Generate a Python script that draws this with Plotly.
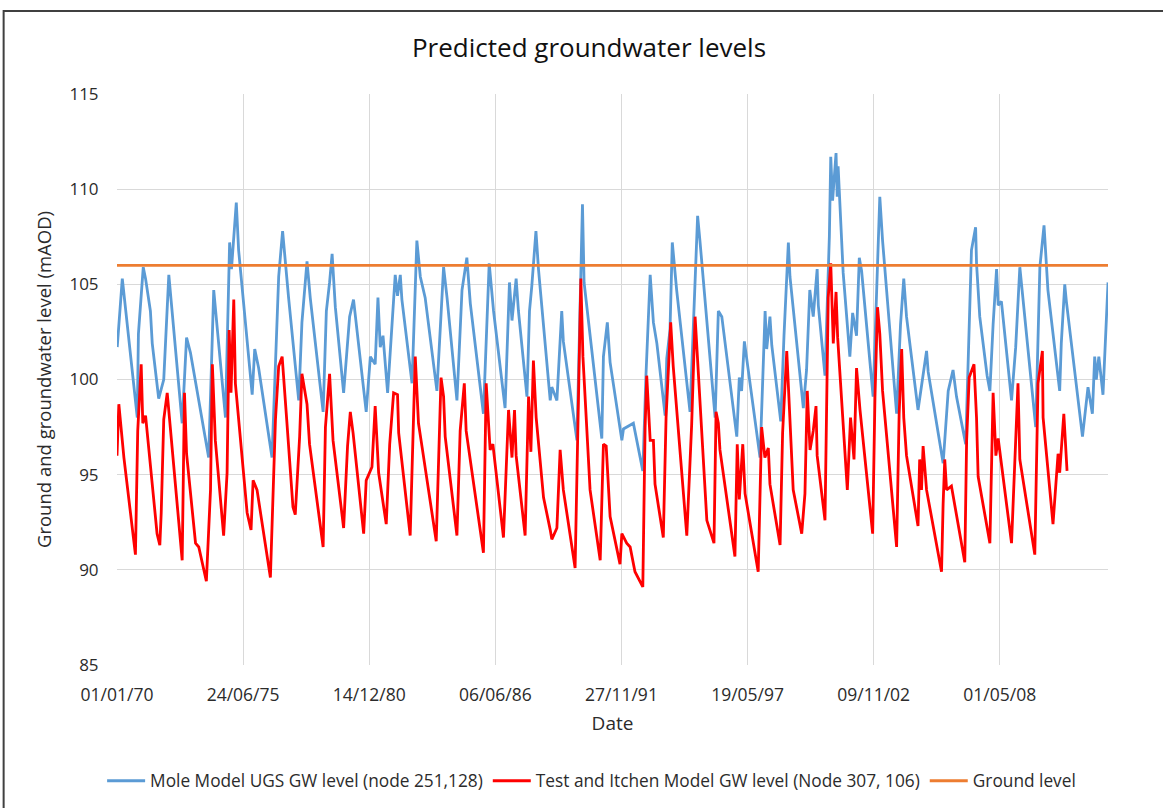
import numpy as np
import pandas as pd
import plotly.graph_objects as go

# ---- data (decimal years since 1970-01-01, level in mAOD) ----
mole_t = [0.01, 0.23, 0.88, 0.93, 1.14, 1.24, 1.45, 1.53, 1.81, 2.03, 2.25, 2.83, 3.02, 3.19, 3.98,
          4.20, 4.71, 4.89, 4.97, 5.18, 5.28, 5.87, 5.98, 6.15, 6.73, 7.02, 7.19, 7.45, 7.89, 8.03,
          8.25, 8.39, 8.95, 9.09, 9.23, 9.34, 9.48, 9.84, 10.10, 10.27, 10.82, 11.00, 11.21, 11.33,
          11.43, 11.55, 11.75, 11.94, 12.08, 12.18, 12.30, 12.37, 12.81, 13.02, 13.17, 13.38, 13.89,
          14.18, 14.33, 14.76, 14.98, 15.19, 15.34, 15.91, 16.16, 16.35, 16.85, 17.04, 17.15, 17.33,
          17.43, 17.80, 17.91, 18.01, 18.19, 18.30, 18.81, 18.88, 19.10, 19.31, 19.38, 19.97, 20.21,
          20.28, 21.05, 21.12, 21.29, 21.41, 21.92, 21.99, 22.42, 22.83, 22.97, 23.15, 23.29, 23.44,
          23.80, 23.87, 24.01, 24.11, 24.30, 24.88, 25.21, 25.31, 25.97, 26.11, 26.26, 26.91, 27.02,
          27.12, 27.24, 27.92, 28.14, 28.21, 28.35, 28.43, 28.82, 28.96, 29.15, 29.22, 29.80, 29.94,
          30.08, 30.23, 30.40, 30.45, 30.74, 30.93, 30.99, 31.07, 31.22, 31.27, 31.31, 31.53, 31.82,
          31.94, 32.11, 32.23, 32.33, 32.83, 33.12, 33.24, 33.85, 34.02, 34.16, 34.28, 34.78, 35.15,
          35.22, 35.87, 36.09, 36.30, 36.45, 36.85, 37.03, 37.10, 37.28, 37.32, 37.46, 37.64, 37.78,
          37.90, 38.04, 38.19, 38.26, 38.40, 38.84, 39.02, 39.20, 39.89, 40.07, 40.25, 40.36, 40.42,
          40.93, 41.00, 41.15, 41.22, 41.92, 42.16, 42.35, 42.45, 42.52, 42.63, 42.81, 43.03]
mole_level = [101.7, 105.3, 98.0, 102.4, 105.9, 105.3, 103.6, 101.9, 99.0, 100.0, 105.5, 97.7, 102.2,
              101.4, 95.9, 104.7, 98.0, 107.2, 105.8, 109.3, 106.8, 99.2, 101.6, 100.6, 95.9, 105.4,
              107.8, 104.3, 98.9, 103.0, 106.2, 104.3, 98.3, 103.6, 105.1, 106.6, 103.8, 99.3, 103.3,
              104.2, 98.3, 101.2, 100.8, 104.3, 101.7, 102.3, 99.3, 103.0, 105.5, 104.4, 105.5, 104.2,
              99.8, 107.3, 105.4, 104.3, 99.4, 105.9, 104.3, 98.9, 104.7, 106.4, 104.0, 98.2, 106.1,
              103.6, 98.5, 105.1, 103.1, 105.3, 103.6, 99.1, 103.6, 104.9, 107.8, 105.8, 98.9, 99.6,
              98.9, 103.6, 102.0, 96.8, 109.2, 105.1, 96.9, 101.2, 103.0, 100.9, 96.8, 97.4, 97.7, 95.2,
              100.3, 105.5, 103.0, 101.9, 98.1, 101.1, 102.6, 107.2, 104.7, 98.3, 108.6, 107.3, 98.0,
              103.6, 103.3, 97.0, 100.1, 99.4, 102.0, 95.9, 103.6, 101.6, 103.3, 101.8, 97.8, 102.3,
              107.2, 105.4, 98.5, 100.5, 104.7, 103.3, 105.8, 103.9, 100.2, 107.5, 111.7, 109.4, 111.9,
              109.6, 111.2, 105.6, 101.2, 103.5, 102.3, 106.4, 105.7, 99.1, 109.6, 107.3, 98.2, 102.9,
              105.3, 103.3, 98.4, 101.5, 100.4, 95.6, 99.4, 100.5, 99.1, 96.6, 104.0, 106.8, 108.0,
              106.1, 103.3, 101.4, 100.2, 99.4, 102.9, 105.8, 103.9, 104.1, 98.9, 101.7, 105.9, 97.5,
              105.9, 108.1, 106.1, 104.7, 99.4, 101.9, 105.0, 104.1, 97.0, 99.6, 98.2, 101.2, 100.0,
              101.2, 99.2, 105.1]

itchen_t = [0.00, 0.08, 0.30, 0.80, 0.90, 1.05, 1.12, 1.24, 1.74, 1.86, 1.92, 2.03, 2.18, 2.83, 2.93,
            3.02, 3.41, 3.55, 3.88, 4.06, 4.14, 4.27, 4.63, 4.78, 4.87, 4.95, 5.07, 5.14, 5.65, 5.82,
            5.91, 6.08, 6.66, 6.88, 7.02, 7.17, 7.38, 7.64, 7.74, 7.93, 8.03, 8.25, 8.36, 8.95, 9.05,
            9.23, 9.38, 9.84, 10.01, 10.13, 10.25, 10.71, 10.82, 11.07, 11.21, 11.36, 11.69, 11.84,
            12.01, 12.18, 12.23, 12.73, 12.95, 13.09, 13.24, 13.86, 14.07, 14.18, 14.25, 14.76, 14.90,
            15.08, 15.16, 15.91, 16.03, 16.20, 16.32, 16.78, 17.00, 17.15, 17.26, 17.33, 17.72, 17.87,
            17.97, 18.08, 18.20, 18.52, 18.81, 18.88, 19.10, 19.24, 19.38, 19.89, 20.14, 20.23, 20.54,
            20.98, 21.12, 21.24, 21.41, 21.84, 21.92, 22.13, 22.28, 22.49, 22.83, 22.93, 23.00, 23.15,
            23.29, 23.36, 23.72, 23.84, 24.04, 24.15, 24.74, 24.95, 25.10, 25.17, 25.61, 25.92, 26.01,
            26.11, 26.18, 26.83, 26.93, 27.02, 27.17, 27.27, 27.84, 27.99, 28.13, 28.28, 28.35, 28.79,
            28.90, 29.08, 29.19, 29.36, 29.73, 29.87, 29.97, 30.09, 30.23, 30.35, 30.40, 30.74, 30.88,
            30.99, 31.10, 31.22, 31.29, 31.39, 31.71, 31.85, 32.00, 32.11, 32.26, 32.81, 32.91, 33.02,
            33.12, 33.24, 33.85, 33.96, 34.07, 34.16, 34.28, 34.78, 34.85, 34.93, 35.00, 35.15, 35.80,
            35.87, 35.94, 36.02, 36.23, 36.81, 36.89, 37.00, 37.21, 37.32, 37.39, 37.90, 37.97, 38.04,
            38.16, 38.26, 38.84, 38.98, 39.12, 39.20, 39.85, 39.99, 40.18, 40.21, 40.64, 40.86, 40.93,
            41.11, 41.25]
itchen_level = [96.0, 98.7, 95.9, 90.8, 97.3, 100.8, 97.7, 98.1, 91.9, 91.3, 93.0, 97.9, 99.3, 90.5,
                99.3, 96.1, 91.4, 91.2, 89.4, 94.2, 100.8, 96.8, 91.8, 95.1, 102.6, 99.3, 104.2, 99.8,
                93.0, 92.1, 94.7, 94.2, 89.6, 97.9, 100.7, 101.2, 97.7, 93.3, 92.9, 97.0, 100.3, 98.7,
                96.6, 91.2, 97.5, 100.3, 96.8, 92.2, 96.5, 98.3, 97.2, 91.9, 94.7, 95.4, 98.6, 95.1,
                92.4, 96.6, 99.3, 99.2, 97.2, 91.8, 101.2, 97.7, 96.5, 91.5, 100.1, 99.1, 97.0, 91.8,
                97.3, 99.8, 97.3, 90.9, 99.8, 96.3, 96.6, 91.7, 98.4, 95.9, 98.4, 96.0, 91.8, 99.1, 96.2,
                101.0, 98.0, 93.8, 92.1, 91.6, 92.2, 96.3, 94.2, 90.1, 105.3, 101.2, 94.2, 90.5, 96.6,
                96.5, 92.8, 90.3, 91.9, 91.4, 91.2, 89.9, 89.1, 97.5, 100.2, 96.8, 96.8, 94.5, 91.7,
                98.0, 103.0, 100.7, 91.8, 97.6, 103.3, 101.9, 92.6, 91.4, 98.3, 97.7, 96.3, 90.7, 96.6,
                93.7, 96.6, 94.0, 89.9, 97.5, 95.9, 96.4, 94.5, 91.3, 97.2, 101.5, 98.4, 94.2, 91.9,
                94.0, 99.4, 96.3, 97.3, 98.6, 96.0, 92.6, 104.3, 106.1, 101.9, 104.6, 102.2, 100.3,
                94.2, 98.0, 95.8, 100.6, 98.4, 91.9, 99.1, 103.8, 102.4, 99.4, 91.2, 98.2, 101.6, 98.0,
                96.0, 92.3, 95.8, 94.2, 96.5, 94.2, 89.9, 93.5, 95.8, 94.2, 94.4, 90.4, 96.8, 100.1,
                100.8, 98.0, 94.9, 91.4, 95.8, 99.3, 96.0, 96.9, 91.4, 95.8, 99.8, 95.8, 90.8, 99.8,
                101.5, 98.0, 92.4, 96.1, 95.1, 98.2, 95.2]

ground_dates = ["1970-01-01", "2013-01-11"]
ground_level = [106, 106]

tick_labels = ["01/01/70", "24/06/75", "14/12/80", "06/06/86", "27/11/91", "19/05/97", "09/11/02", "01/05/08"]
y_ticks = [85, 90, 95, 100, 105, 110, 115]

origin = pd.Timestamp("1970-01-01")
def to_dates(t):
    return origin + pd.to_timedelta(np.array(t) * 365.25, unit="D")

tick_dates = pd.to_datetime(tick_labels, format="%d/%m/%y")

FONT = "Open Sans"
TXT = "#2b2b2b"
fig = go.Figure()
fig.add_trace(go.Scatter(x=to_dates(mole_t), y=mole_level, mode="lines",
                         name="Mole Model UGS GW level (node 251,128)",
                         line=dict(color="#5B9BD5", width=2.8)))
fig.add_trace(go.Scatter(x=to_dates(itchen_t), y=itchen_level, mode="lines",
                         name="Test and Itchen Model GW level (Node 307, 106)",
                         line=dict(color="#FF0000", width=2.8)))
fig.add_trace(go.Scatter(x=pd.to_datetime(ground_dates), y=ground_level, mode="lines",
                         name="Ground level",
                         line=dict(color="#ED7D31", width=2.8)))

fig.update_layout(
    width=1163, height=808,
    margin=dict(l=117, r=55, t=94, b=143, autoexpand=False),
    paper_bgcolor="white", plot_bgcolor="white",
    font=dict(family=FONT, color=TXT),
    title=dict(text="Predicted groundwater levels", x=589 / 1163, xanchor="center",
               y=1 - 48 / 808, yanchor="middle", font=dict(size=26, color="#111111", family=FONT)),
    showlegend=True,
    legend=dict(orientation="h", x=(592 - 117) / 991.8, xanchor="center",
                y=-(781 - 665) / 571, yanchor="middle",
                font=dict(size=17.3, color=TXT, family=FONT), itemwidth=38,
                traceorder="normal", bgcolor="rgba(0,0,0,0)"),
    shapes=[dict(type="rect", xref="paper", yref="paper", x0=-0.1144, x1=1.06,
                 y0=-0.35, y1=1.1454, line=dict(color="#404040", width=2), fillcolor="rgba(0,0,0,0)",
                 layer="below")],
)
fig.update_xaxes(
    type="date", range=[origin, pd.Timestamp("2013-01-11")],
    tickvals=tick_dates, ticktext=tick_labels,
    ticks="outside", ticklen=14, tickcolor="rgba(0,0,0,0)",
    showgrid=True, gridcolor="#d9d9d9", gridwidth=1.4,
    showline=False, zeroline=False,
    tickfont=dict(size=17.5, color=TXT, family=FONT),
    title=dict(text="Date", font=dict(size=19, color=TXT, family=FONT), standoff=11),
)
fig.update_yaxes(
    range=[85, 115], tickvals=y_ticks,
    ticks="outside", ticklen=14, tickcolor="rgba(0,0,0,0)",
    showgrid=True, gridcolor="#d9d9d9", gridwidth=1.4,
    showline=False, zeroline=False,
    tickfont=dict(size=17, color=TXT, family=FONT),
    title=dict(text="Ground and groundwater level (mAOD)",
               font=dict(size=18.5, color=TXT, family=FONT), standoff=12),
)

fig.write_html("out.html", config={"displayModeBar": False},
               post_script="document.body.style.margin='0px';")
